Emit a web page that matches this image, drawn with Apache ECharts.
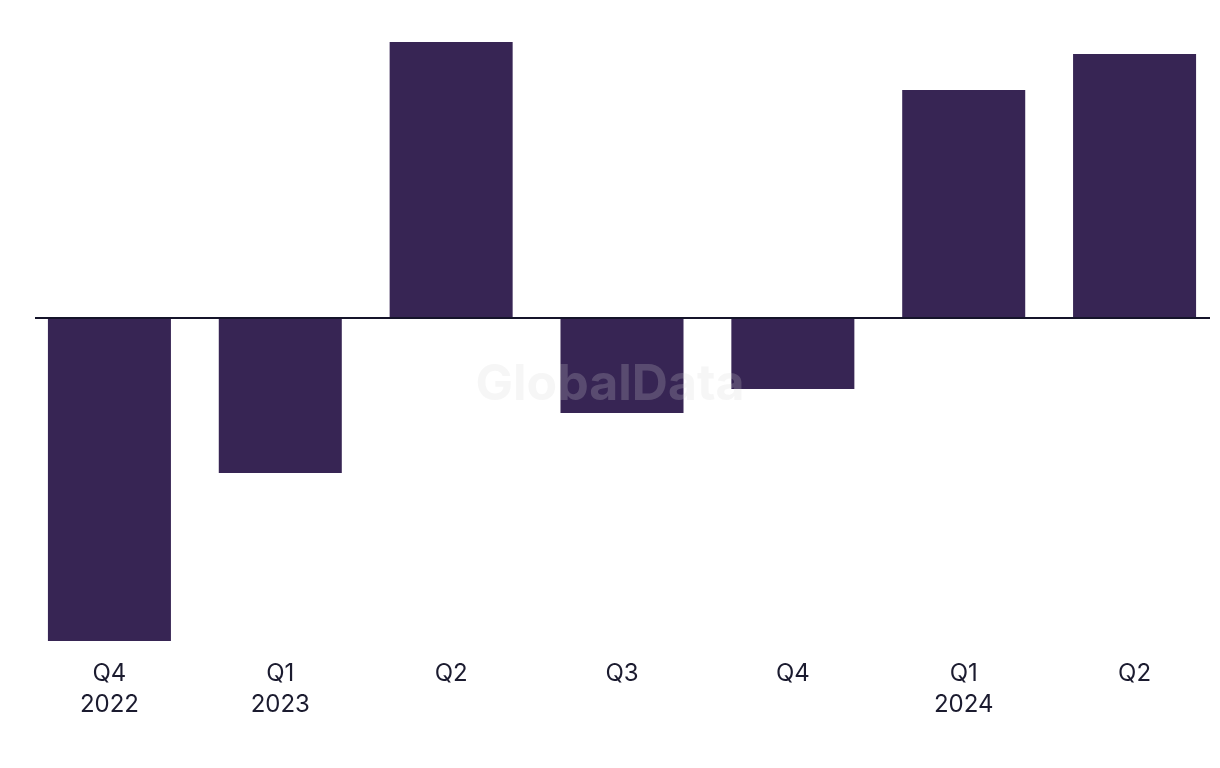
<!DOCTYPE html>
<html>
<head>
<meta charset="utf-8">
<script src="https://cdn.jsdelivr.net/npm/echarts@6/dist/echarts.min.js"></script>
<style>html,body{margin:0;padding:0;background:#fff}#c{width:1220px;height:768px}</style>
</head>
<body>
<div id="c"></div>
<script>
const categories = ['Q4\n2022', 'Q1\n2023', 'Q2', 'Q3', 'Q4', 'Q1\n2024', 'Q2'];
const values = [-32.3, -15.5, 27.6, -9.5, -7.1, 22.8, 26.4];
const yMin = -32.3;
const yMax = 27.6;

const chart = echarts.init(document.getElementById('c'), null, {renderer: 'canvas'});
chart.setOption({
  animation: false,
  grid: {left: 24, right: -3, top: 42, bottom: 127, containLabel: false},
  xAxis: {
    type: 'category',
    data: categories,
    position: 'bottom',
    axisLine: {show: false, onZero: false},
    axisTick: {show: false},
    axisLabel: {
      color: '#1b1b2f', fontFamily: 'Inter', fontSize: 24, lineHeight: 31, margin: 17
    }
  },
  yAxis: {
    type: 'value', min: yMin, max: yMax,
    show: false, splitLine: {show: false}
  },
  graphic: [{
    type: 'text', left: 'center', top: 360, z: 100,
    style: {text: 'GlobalData', font: 'bold 50px Inter', fill: 'rgba(215,215,215,0.22)'}
  }],
  series: [{
    type: 'bar',
    data: values,
    barCategoryGap: '28%',
    itemStyle: {color: '#372554'},
    markLine: {
      silent: true, symbol: 'none', label: {show: false},
      lineStyle: {color: '#15142a', width: 2, type: 'solid'},
      data: [[{x: 35, yAxis: 0}, {x: 1210, yAxis: 0}]]
    }
  }]
});
</script>
</body>
</html>
